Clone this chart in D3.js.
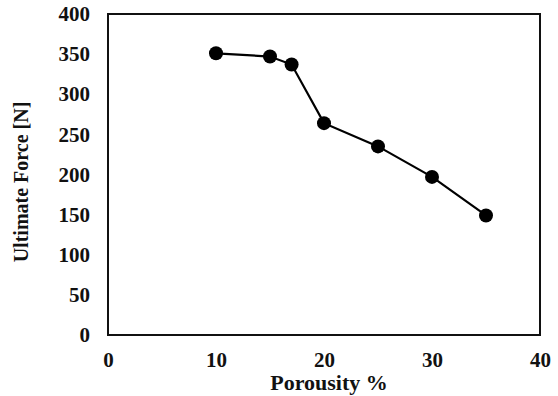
<!DOCTYPE html>
<html>
<head>
<meta charset="utf-8">
<script src="https://cdn.jsdelivr.net/npm/d3@7"></script>
<style>
	body { margin: 0; background: #fff; }
	text { font-family: 'Liberation Serif', 'Times New Roman', serif; font-weight: bold; fill: #111; }
</style>
</head>
<body>
<div id="chart"></div>
<script>
// Data
const porosity = [10, 15, 17, 20, 25, 30, 35];
const force = [351, 347, 337, 264, 235, 197, 149];
const xTicks = [0, 10, 20, 30, 40];
const yTicks = [0, 50, 100, 150, 200, 250, 300, 350, 400];

const W = 558, H = 396;
const margin = { top: 14, right: 18, bottom: 61, left: 108 };
const width = W - margin.left - margin.right;
const height = H - margin.top - margin.bottom;
const FONT = "'Liberation Serif', 'Times New Roman', serif";

const svg = d3.select('#chart').append('svg')
	.attr('width', W)
	.attr('height', H);

const g = svg.append('g')
	.attr('transform', `translate(${margin.left},${margin.top})`);

const x = d3.scaleLinear().domain([0, 40]).range([0, width]);
const y = d3.scaleLinear().domain([0, 400]).range([height, 0]);

// X axis labels
const xAxis = g.append('g')
	.attr('transform', `translate(0,${height})`)
	.call(d3.axisBottom(x).tickValues(xTicks).tickSize(0).tickPadding(17))
	.attr('font-family', FONT)
	.attr('font-size', 21);
xAxis.select('.domain').remove();

// Y axis labels
const yAxis = g.append('g')
	.call(d3.axisLeft(y).tickValues(yTicks).tickSize(0).tickPadding(18))
	.attr('font-family', FONT)
	.attr('font-size', 21);
yAxis.select('.domain').remove();

// Plot frame
g.append('rect')
	.attr('x', 0).attr('y', 0)
	.attr('width', width).attr('height', height)
	.attr('fill', 'none')
	.attr('stroke', '#111')
	.attr('stroke-width', 2);

// Axis titles
g.append('text')
	.attr('x', 221)
	.attr('y', height + 55)
	.attr('text-anchor', 'middle')
	.style('font-size', '22px')
	.text('Porousity %');

g.append('text')
	.attr('transform', 'rotate(-90)')
	.attr('x', -168)
	.attr('y', -80)
	.attr('text-anchor', 'middle')
	.style('font-size', '20px')
	.text('Ultimate Force [N]');

// Series
const pts = porosity.map((p, i) => ({ p, f: force[i] }));
const line = d3.line()
	.x((d) => x(d.p))
	.y((d) => y(d.f));

g.append('path')
	.datum(pts)
	.attr('fill', 'none')
	.attr('stroke', '#000')
	.attr('stroke-width', 2.2)
	.attr('d', line);

g.selectAll('.dot')
	.data(pts)
	.enter()
	.append('circle')
	.attr('cx', (d) => x(d.p))
	.attr('cy', (d) => y(d.f))
	.attr('r', 7)
	.attr('fill', '#000');
</script>
</body>
</html>
